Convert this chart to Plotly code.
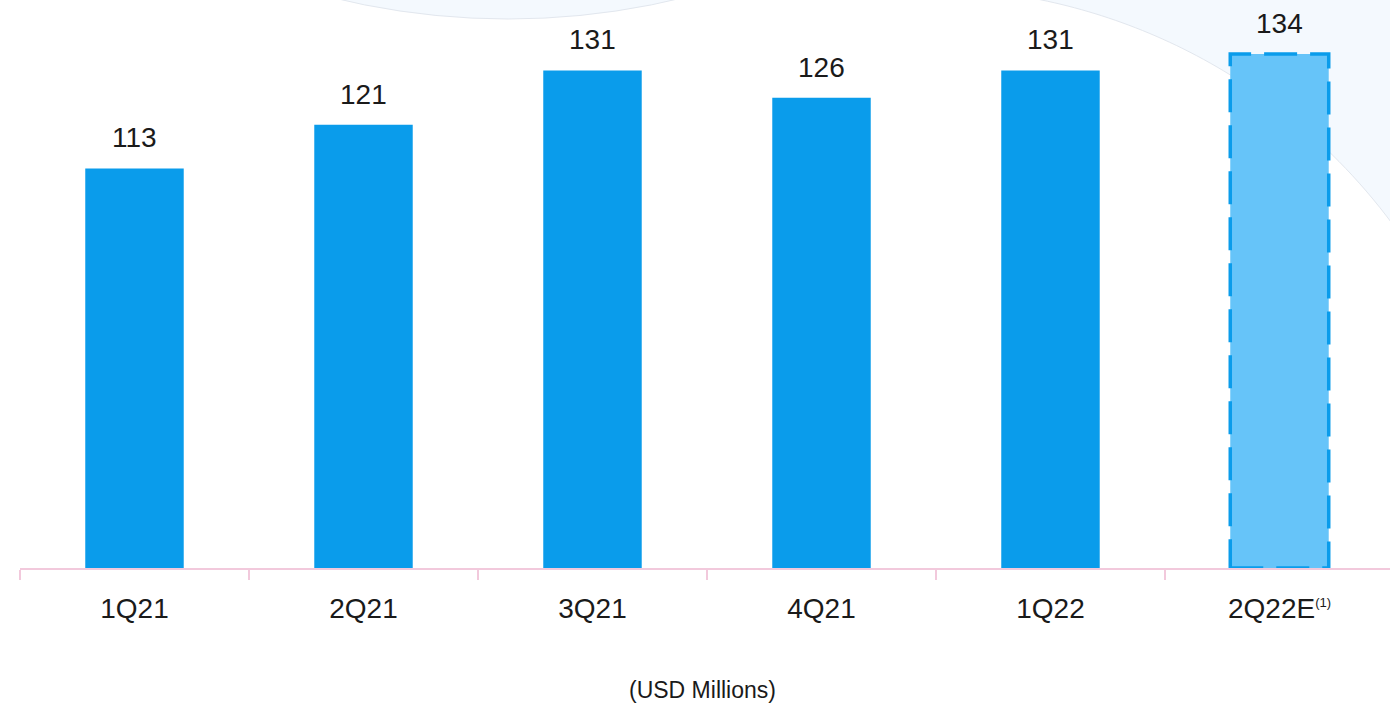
import numpy as np
import plotly.graph_objects as go

# ---- data ----
categories = ["1Q21", "2Q21", "3Q21", "4Q21", "1Q22", "2Q22E"]
tick_labels = ["1Q21", "2Q21", "3Q21", "4Q21", "1Q22",
               "2Q22E<sup><span style='font-size:13px'>(1)</span></sup>"]
values = [113, 121, 131, 126, 131, 134]
is_estimate = [False, False, False, False, False, True]
unit_note = "(USD Millions)"

# ---- styling ----
W, H = 1390, 703
ML, MR, MT, MB = 20, 0, 0, 135
PW, PH = W - ML - MR, H - MT - MB
FONT = "Liberation Sans, Arial, sans-serif"
SOLID = "#0A9CEB"
EST_FILL = "#66C4F9"
AXIS_COL = "#F2C9DC"
BG_BLUE = "#F4F9FE"
BG_EDGE = "#E2E7EE"
BAR_W = 0.43
Y_MIN = 39.6
Y_MAX = Y_MIN + PH / 5.444
X_MIN = -0.5
X_MAX = X_MIN + PW / 229

colors = [EST_FILL if e else SOLID for e in is_estimate]

fig = go.Figure()
fig.add_trace(go.Bar(
    x=categories, y=values, width=BAR_W,
    marker=dict(color=colors, line=dict(width=0)),
    hoverinfo="skip",
))

# value labels
for c, v in zip(categories, values):
    fig.add_annotation(x=c, y=v, text=str(v), showarrow=False,
                       yanchor="bottom", yshift=13,
                       font=dict(family=FONT, size=28, color="#1A1A1A"))

# dashed outline for estimate bar
for i, (v, e) in enumerate(zip(values, is_estimate)):
    if e:
        fig.add_shape(type="rect", xref="x", yref="y",
                      x0=i - BAR_W / 2, x1=i + BAR_W / 2, y0=Y_MIN, y1=v,
                      line=dict(color=SOLID, width=3.5, dash="33px,13px"),
                      fillcolor="rgba(0,0,0,0)", layer="above")

# ---- decorative background blobs (pixel -> paper) ----
def px(X):
    return (X - ML) / PW

def py(Y):
    return (MT + PH - Y) / PH

# top centre blob (circle)
cx, cy, R = 508, -716, 735
fig.add_shape(type="circle", xref="paper", yref="paper",
              x0=px(cx - R), x1=px(cx + R), y0=py(cy + R), y1=py(cy - R),
              fillcolor=BG_BLUE, line=dict(color=BG_EDGE, width=1), layer="below")

# top right region, outside a large white circle
wcx, wcy, wr = 924, 571, 583
xs = np.linspace(1000, 1400, 60)
ys = wcy - np.sqrt(wr ** 2 - (xs - wcx) ** 2)
path = "M " + " L ".join(f"{px(a):.5f},{py(b):.5f}" for a, b in zip(xs, ys))
path += f" L {px(1400):.5f},{py(-5):.5f} L {px(1000):.5f},{py(-5):.5f} Z"
fig.add_shape(type="path", xref="paper", yref="paper", path=path,
              fillcolor=BG_BLUE, line=dict(color=BG_EDGE, width=1), layer="below")

fig.add_annotation(xref="paper", yref="paper", x=px(W / 2 + 7), y=py(690),
                   text=unit_note, showarrow=False, xanchor="center", yanchor="middle",
                   font=dict(family=FONT, size=23, color="#1A1A1A"))

fig.update_layout(
    width=W, height=H,
    margin=dict(l=ML, r=MR, t=MT, b=MB),
    paper_bgcolor="white", plot_bgcolor="rgba(0,0,0,0)",
    showlegend=False,
    xaxis=dict(
        range=[X_MIN, X_MAX], tickmode="array",
        tickvals=list(range(len(categories))), ticktext=tick_labels,
        tickson="boundaries", ticks="outside", ticklen=10, tickwidth=1.5,
        tickcolor=AXIS_COL, showline=True, linecolor=AXIS_COL, linewidth=1.5,
        showgrid=False, zeroline=False, ticklabelstandoff=15,
        tickfont=dict(family=FONT, size=28, color="#1A1A1A"),
        fixedrange=True,
    ),
    yaxis=dict(range=[Y_MIN, Y_MAX], visible=False, showgrid=False,
               zeroline=False, fixedrange=True),
)

fig.write_html("out.html", config={"displayModeBar": False},
               post_script="document.body.style.margin='0';document.body.style.overflow='hidden';")
